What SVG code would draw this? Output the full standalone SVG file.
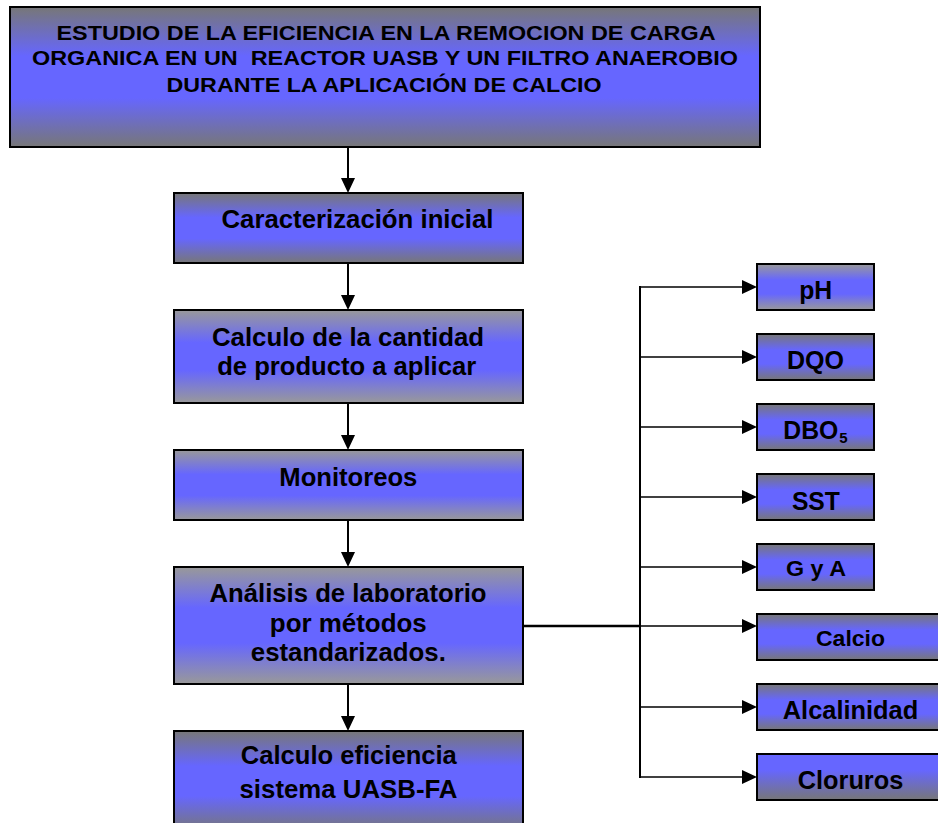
<svg xmlns="http://www.w3.org/2000/svg" width="938" height="823" viewBox="0 0 938 823">
<defs>
<linearGradient id="gDark" x1="0" y1="0" x2="0" y2="1">
<stop offset="0" stop-color="#777777"/><stop offset="0.35" stop-color="#6666ff"/><stop offset="0.65" stop-color="#6666ff"/><stop offset="1" stop-color="#777777"/>
</linearGradient>
<linearGradient id="gLight" x1="0" y1="0" x2="0" y2="1">
<stop offset="0" stop-color="#999999"/><stop offset="0.35" stop-color="#6666ff"/><stop offset="0.65" stop-color="#6666ff"/><stop offset="1" stop-color="#999999"/>
</linearGradient>
<linearGradient id="gDown" x1="0" y1="0" x2="0" y2="1">
<stop offset="0" stop-color="#6666ff"/><stop offset="0.35" stop-color="#6666ff"/><stop offset="1" stop-color="#777777"/>
</linearGradient>
<marker id="ah" markerUnits="userSpaceOnUse" markerWidth="15" markerHeight="14" refX="0" refY="7" orient="auto" overflow="visible">
<path d="M0,0 L15,7 L0,14 z" fill="#000"/>
</marker>
</defs>
<style>
.box{stroke:#000;stroke-width:2}
.t{font-family:"Liberation Sans",Arial,sans-serif;font-weight:bold;fill:#000;text-anchor:middle;white-space:pre}
.t1{font-size:21px}
.t2{font-size:25px}
.t3{font-size:22.5px}
.c{fill:none;stroke:#000}
</style>
<rect x="0" y="0" width="938" height="823" fill="#fff"/>
<g id="connectors">
<line class="c" stroke-width="2" x1="348" y1="147" x2="348" y2="178" marker-end="url(#ah)"/>
<line class="c" stroke-width="2" x1="348" y1="263" x2="348" y2="295" marker-end="url(#ah)"/>
<line class="c" stroke-width="2" x1="348" y1="403" x2="348" y2="435" marker-end="url(#ah)"/>
<line class="c" stroke-width="2" x1="348" y1="520" x2="348" y2="552" marker-end="url(#ah)"/>
<line class="c" stroke-width="2" x1="348" y1="684" x2="348" y2="716" marker-end="url(#ah)"/>
<line class="c" stroke-width="2.5" x1="523" y1="626" x2="641" y2="626"/>
<line class="c" stroke-width="2" x1="640" y1="286" x2="640" y2="778"/>
<line class="c" stroke-width="1.6" x1="640" y1="287" x2="742" y2="287" marker-end="url(#ah)"/>
<line class="c" stroke-width="1.6" x1="640" y1="357" x2="742" y2="357" marker-end="url(#ah)"/>
<line class="c" stroke-width="1.6" x1="640" y1="427" x2="742" y2="427" marker-end="url(#ah)"/>
<line class="c" stroke-width="1.6" x1="640" y1="497" x2="742" y2="497" marker-end="url(#ah)"/>
<line class="c" stroke-width="1.6" x1="640" y1="567" x2="742" y2="567" marker-end="url(#ah)"/>
<line class="c" stroke-width="1.6" x1="640" y1="626" x2="742" y2="626" marker-end="url(#ah)"/>
<line class="c" stroke-width="1.6" x1="640" y1="707" x2="742" y2="707" marker-end="url(#ah)"/>
<line class="c" stroke-width="1.6" x1="640" y1="777" x2="742" y2="777" marker-end="url(#ah)"/>
</g>
<g id="title">
<rect class="box" x="10" y="7" width="750" height="140" fill="url(#gDark)"/>
<text class="t t1" x="386" y="39.5" textLength="659" lengthAdjust="spacingAndGlyphs">ESTUDIO DE LA EFICIENCIA EN LA REMOCION DE CARGA</text>
<text class="t t1" x="385" y="65" textLength="706" lengthAdjust="spacingAndGlyphs">ORGANICA EN UN  REACTOR UASB Y UN FILTRO ANAEROBIO</text>
<text class="t t1" x="384" y="91.5" textLength="435" lengthAdjust="spacingAndGlyphs">DURANTE LA APLICACIÓN DE CALCIO</text>
</g>
<g id="caracterizacion">
<rect class="box" x="174" y="193" width="349" height="70" fill="url(#gDark)"/>
<text class="t t2" x="357.5" y="228" textLength="272" lengthAdjust="spacingAndGlyphs">Caracterización inicial</text>
</g>
<g id="calculo-cantidad">
<rect class="box" x="174" y="310" width="349" height="93" fill="url(#gLight)"/>
<text class="t t2" x="348" y="346" textLength="272" lengthAdjust="spacingAndGlyphs">Calculo de la cantidad</text>
<text class="t t2" x="346.7" y="375" textLength="259" lengthAdjust="spacingAndGlyphs">de producto a aplicar</text>
</g>
<g id="monitoreos">
<rect class="box" x="174" y="450" width="349" height="70" fill="url(#gLight)"/>
<text class="t t2" x="348.3" y="486" textLength="138" lengthAdjust="spacingAndGlyphs">Monitoreos</text>
</g>
<g id="analisis">
<rect class="box" x="174" y="567" width="349" height="117" fill="url(#gLight)"/>
<text class="t t2" x="348" y="602" textLength="277" lengthAdjust="spacingAndGlyphs">Análisis de laboratorio</text>
<text class="t t2" x="348.3" y="631.5" textLength="157" lengthAdjust="spacingAndGlyphs">por métodos</text>
<text class="t t2" x="348.3" y="660.5" textLength="195" lengthAdjust="spacingAndGlyphs">estandarizados.</text>
</g>
<g id="calculo-eficiencia">
<rect class="box" x="174" y="731" width="349" height="100" fill="url(#gDark)"/>
<text class="t t2" x="348.8" y="764" textLength="216" lengthAdjust="spacingAndGlyphs">Calculo eficiencia</text>
<text class="t t2" x="348.5" y="798" textLength="218" lengthAdjust="spacingAndGlyphs">sistema UASB-FA</text>
</g>
<g id="ph">
<rect class="box" x="757" y="264" width="117" height="46" fill="url(#gLight)"/>
<text class="t t2" x="815.7" y="298.5" textLength="33" lengthAdjust="spacingAndGlyphs">pH</text>
</g>
<g id="dqo">
<rect class="box" x="757" y="334" width="117" height="46" fill="url(#gDark)"/>
<text class="t t2" x="815.4" y="368.5" textLength="57" lengthAdjust="spacingAndGlyphs">DQO</text>
</g>
<g id="dbo5">
<rect class="box" x="757" y="404" width="117" height="46" fill="url(#gDark)"/>
<text class="t t2" x="810.8" y="438.5" textLength="55" lengthAdjust="spacingAndGlyphs">DBO</text>
<text class="t" style="font-size:15px" x="843.5" y="442.5">5</text>
</g>
<g id="sst">
<rect class="box" x="757" y="474" width="117" height="46" fill="url(#gDark)"/>
<text class="t t2" x="815.9" y="509.5" textLength="48" lengthAdjust="spacingAndGlyphs">SST</text>
</g>
<g id="gya">
<rect class="box" x="757" y="544" width="117" height="46" fill="url(#gDark)"/>
<text class="t t3" x="816" y="576" textLength="60" lengthAdjust="spacingAndGlyphs">G y A</text>
</g>
<g id="calcio">
<rect class="box" x="757" y="614" width="190" height="46" fill="url(#gDark)"/>
<text class="t t3" x="850.5" y="646" textLength="69" lengthAdjust="spacingAndGlyphs">Calcio</text>
</g>
<g id="alcalinidad">
<rect class="box" x="757" y="684" width="190" height="46" fill="url(#gDark)"/>
<text class="t t2" x="850.5" y="719" textLength="135.5" lengthAdjust="spacingAndGlyphs">Alcalinidad</text>
</g>
<g id="cloruros">
<rect class="box" x="757" y="754" width="190" height="46" fill="url(#gDown)"/>
<text class="t t2" x="850.5" y="789" textLength="105.5" lengthAdjust="spacingAndGlyphs">Cloruros</text>
</g>
</svg>
